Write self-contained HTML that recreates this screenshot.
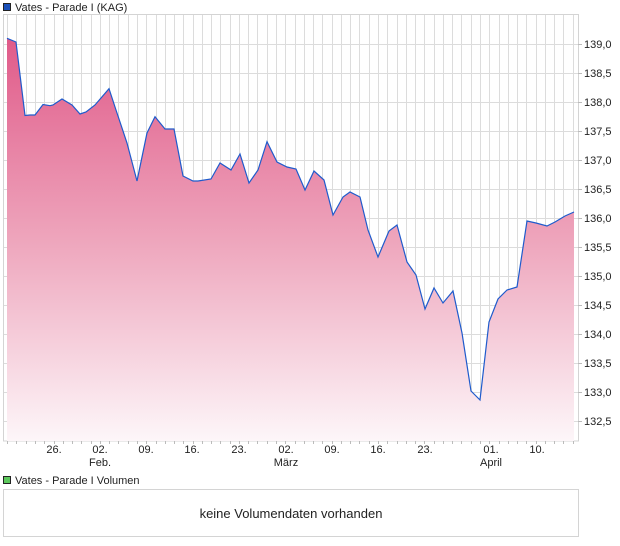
<!DOCTYPE html>
<html><head><style>
html,body{margin:0;padding:0;background:#fff;}
svg{display:block;font-family:"Liberation Sans",sans-serif;}
</style></head><body>
<svg width="620" height="546" viewBox="0 0 620 546" xmlns="http://www.w3.org/2000/svg">
<defs>
<linearGradient id="g" x1="0" y1="38" x2="0" y2="441" gradientUnits="userSpaceOnUse">
<stop offset="0" stop-color="#e05a89"/>
<stop offset="0.5" stop-color="#eea5bc"/>
<stop offset="1" stop-color="#fdf6f9"/>
</linearGradient>
</defs>
<rect x="3.5" y="14.5" width="575" height="426.5" fill="#fff" stroke="#d4d4d4"/>
<g id="vg" stroke="#dcdcdc" stroke-width="1"></g>
<g stroke="#dcdcdc" stroke-width="1">
<line x1="4" x2="578" y1="44.5" y2="44.5"/><line x1="4" x2="578" y1="73.5" y2="73.5"/><line x1="4" x2="578" y1="102.5" y2="102.5"/><line x1="4" x2="578" y1="131.5" y2="131.5"/><line x1="4" x2="578" y1="160.5" y2="160.5"/><line x1="4" x2="578" y1="189.5" y2="189.5"/><line x1="4" x2="578" y1="218.5" y2="218.5"/><line x1="4" x2="578" y1="247.5" y2="247.5"/><line x1="4" x2="578" y1="276.5" y2="276.5"/><line x1="4" x2="578" y1="305.5" y2="305.5"/><line x1="4" x2="578" y1="334.5" y2="334.5"/><line x1="4" x2="578" y1="363.5" y2="363.5"/><line x1="4" x2="578" y1="392.5" y2="392.5"/><line x1="4" x2="578" y1="421.5" y2="421.5"/>
</g>
<polygon fill="url(#g)" points="7,441 7,38.3 16,42 25,115.5 30,115 35,115 43,104.5 50,105.7 53,105 62,99 72,105 80,114 86,112 95,105 109,88.7 116,110 127,143 137,181 147,133 155,116.7 165,129 174,129 183,176 193,181 198,181 211,179 220,163 231,170 240,154 249,183 258,170 267,141.7 277,162 287,167 296,169 305,190 314,171 324,180 333,215 343,197 350,192 360,197 368,230 378,257 389,231 397,225 407,262 416,275 425,309 434,288 443,303 453,291 462,333 471,391 480,400 489,322 498,299 507,290 517,287 527,221 536,223 547,226 555,222 565,216 574,212 574,441"/>
<polyline fill="none" stroke="#1f5bcc" stroke-width="1.2" points="7,38.3 16,42 25,115.5 30,115 35,115 43,104.5 50,105.7 53,105 62,99 72,105 80,114 86,112 95,105 109,88.7 116,110 127,143 137,181 147,133 155,116.7 165,129 174,129 183,176 193,181 198,181 211,179 220,163 231,170 240,154 249,183 258,170 267,141.7 277,162 287,167 296,169 305,190 314,171 324,180 333,215 343,197 350,192 360,197 368,230 378,257 389,231 397,225 407,262 416,275 425,309 434,288 443,303 453,291 462,333 471,391 480,400 489,322 498,299 507,290 517,287 527,221 536,223 547,226 555,222 565,216 574,212"/>
<g id="tk" stroke="#bbb"></g>
<g font-size="11" fill="#222">
<text x="584" y="48">139,0</text><text x="584" y="77">138,5</text><text x="584" y="106">138,0</text><text x="584" y="135">137,5</text><text x="584" y="164">137,0</text><text x="584" y="193">136,5</text><text x="584" y="222">136,0</text><text x="584" y="251">135,5</text><text x="584" y="280">135,0</text><text x="584" y="309">134,5</text><text x="584" y="338">134,0</text><text x="584" y="367">133,5</text><text x="584" y="396">133,0</text><text x="584" y="425">132,5</text>
</g>
<g font-size="11" fill="#222" text-anchor="middle">
<text x="54" y="453">26.</text><text x="100" y="453">02.</text><text x="146" y="453">09.</text><text x="192" y="453">16.</text><text x="239" y="453">23.</text><text x="286" y="453">02.</text><text x="332" y="453">09.</text><text x="378" y="453">16.</text><text x="425" y="453">23.</text><text x="491" y="453">01.</text><text x="537" y="453">10.</text>
<text x="100" y="466">Feb.</text><text x="286" y="466">März</text><text x="491" y="466">April</text>
</g>
<rect x="3.5" y="3.5" width="7" height="7" fill="#1a4fb8" stroke="#222" stroke-width="1"/>
<text x="15" y="11" font-size="11" fill="#222">Vates - Parade I (KAG)</text>
<rect x="3.5" y="476.5" width="7" height="7" fill="#5cc85c" stroke="#222" stroke-width="1"/>
<text x="15" y="484" font-size="11" fill="#222">Vates - Parade I Volumen</text>
<rect x="3.5" y="489.5" width="575" height="47" fill="#fff" stroke="#d4d4d4"/>
<text x="291" y="518" font-size="13" fill="#222" text-anchor="middle">keine Volumendaten vorhanden</text>
</svg>
<script>
var ns="http://www.w3.org/2000/svg",vg=document.getElementById("vg"),tk=document.getElementById("tk");
for(var k=0;k<62;k++){var x=Math.round(7.2+9.27*k)+0.5;if(x>578)break;
var l=document.createElementNS(ns,"line");l.setAttribute("x1",x);l.setAttribute("x2",x);l.setAttribute("y1",15);l.setAttribute("y2",441);vg.appendChild(l);
var t=document.createElementNS(ns,"line");t.setAttribute("x1",x);t.setAttribute("x2",x);t.setAttribute("y1",441);t.setAttribute("y2",444);tk.appendChild(t);}
for(var j=0;j<14;j++){var y=421.5-29*j;var t=document.createElementNS(ns,"line");t.setAttribute("x1",578);t.setAttribute("x2",582);t.setAttribute("y1",y);t.setAttribute("y2",y);tk.appendChild(t);}
</script>
</body></html>
